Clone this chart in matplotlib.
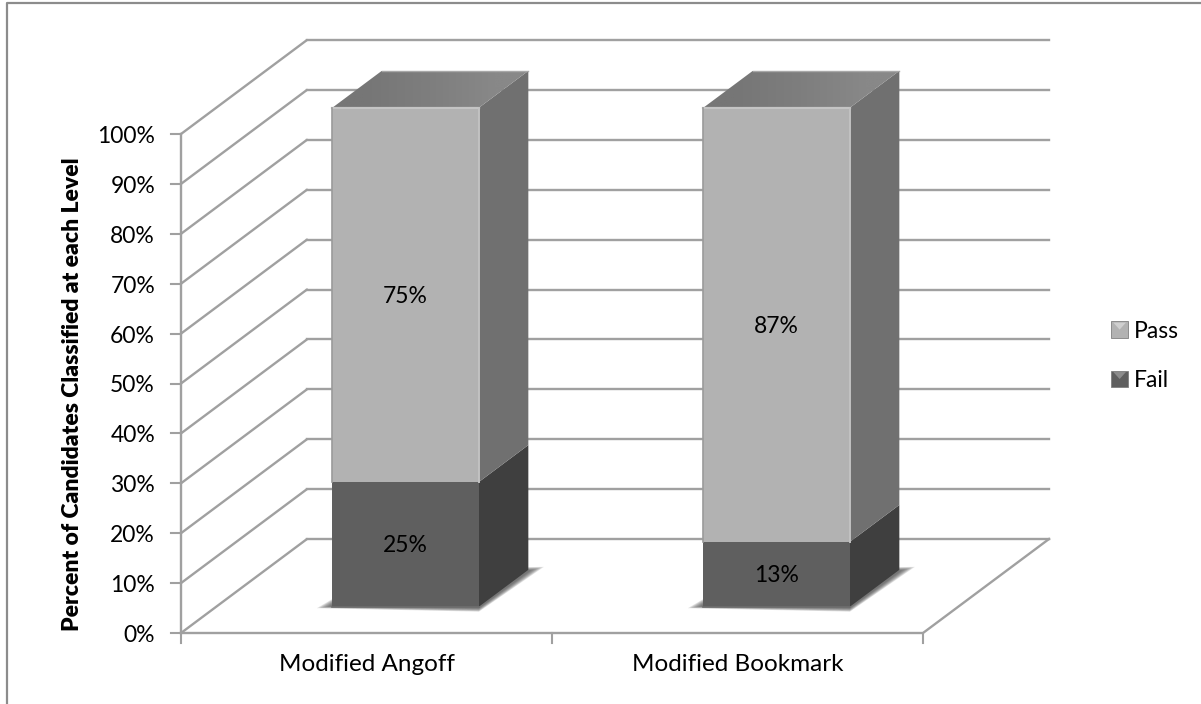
import numpy as np
import matplotlib.pyplot as plt
from matplotlib.colors import to_rgb
from matplotlib.patches import Polygon, Rectangle

plt.rcParams['font.family'] = ['Lato', 'DejaVu Sans']

categories = ['Modified Angoff', 'Modified Bookmark']
fail = [25, 13]
passed = [75, 87]
y_ticks = list(range(0, 101, 10))
legend_labels = ['Pass', 'Fail']

W, H = 1201, 704
X0, Y0 = 181, 633      # pixel position of the axis origin
CAT_W = 371            # pixels per category
PCT_H = 4.99           # pixels per percent
DEPTH_X, DEPTH_Y = 126 / CAT_W, 94 / PCT_H  # oblique shift of the back wall

BAR_W = 0.395
BAR_SHIFT = 0.0105
D_FRONT, D_BACK = 0.28, 0.672
LINE = '#a0a0a0'
FS = 16.5

fig = plt.figure(figsize=(W / 100, H / 100), dpi=100)
ax = fig.add_axes([0, 0, 1, 1])
ax.set_xlim(-X0 / CAT_W, (W - X0) / CAT_W)
ax.set_ylim(-(H - Y0) / PCT_H, Y0 / PCT_H)
ax.axis('off')


def proj(x, y, d=0):
    return x + d * DEPTH_X, y + d * DEPTH_Y


def face(pts, color, z=3):
    ax.add_patch(Polygon(pts, closed=True, fc=color, ec='none', zorder=z))


def shade(pts, colors, z=3):
    # polygon filled with a left to right gradient
    poly = Polygon(pts, closed=True, fc='none', ec='none', zorder=z)
    ax.add_patch(poly)
    xs, ys = zip(*pts)
    grad = np.array([to_rgb(k) for k in colors])[None, :, :]
    im = ax.imshow(grad, extent=[min(xs), max(xs), min(ys), max(ys)], aspect='auto',
                   interpolation='bilinear', zorder=z, origin='lower')
    im.set_clip_path(poly)
    ax.set_xlim(-X0 / CAT_W, (W - X0) / CAT_W)
    ax.set_ylim(-(H - Y0) / PCT_H, Y0 / PCT_H)


# chart frame, only the top and left edges show
ax.plot([6.5 / W, 6.5 / W, 1], [0, 1 - 2.5 / H, 1 - 2.5 / H], transform=ax.transAxes,
        color='#8c8c8c', lw=1.6, zorder=1)

# walls: gridlines run up the side wall, then along the back
for v in y_ticks:
    bx, by = proj(0, v, 1)
    ax.plot([0, bx], [v, by], color=LINE, lw=1.7, zorder=2, solid_capstyle='round')
    if v > 0:
        ax.plot([bx, proj(2, v, 1)[0]], [by, by], color=LINE, lw=1.7, zorder=2)
    ax.plot([-0.027, 0], [v, v], color=LINE, lw=1.5, zorder=2)
    ax.text(-0.07, v - 0.5, '%d%%' % v, ha='right', va='center', fontsize=FS, color='black')

# floor outline
fx, fy = proj(2, 0, 1)
ax.plot([0, 2, fx], [0, 0, fy], color=LINE, lw=1.7, zorder=2)
ax.plot([proj(0, 0, 1)[0], fx], [fy, fy], color=LINE, lw=1.7, zorder=2)
ax.plot([0, 0], [0, 100], color=LINE, lw=1.7, zorder=2)
for x in range(3):
    ax.plot([x, x], [0, -2], color=LINE, lw=1.5, zorder=2)

# bars
for i, cat in enumerate(categories):
    left = i + 0.5 + BAR_SHIFT - BAR_W / 2
    right = left + BAR_W

    def fp(x, y):
        return proj(x, y, D_FRONT)

    def bp(x, y):
        return proj(x, y, D_BACK)

    # soft shadow on the floor, stacked translucent layers
    for k in range(8):
        g = k * 0.005
        pts = [(fp(left, 0)[0] - 0.042 + g, fp(left, 0)[1] - 0.3 + k * 0.05),
               (fp(right, 0)[0], fp(right, 0)[1] - 1.0 + k * 0.1),
               (bp(right, 0)[0] + 0.042 - g, bp(right, 0)[1] + 0.6 - k * 0.1),
               (bp(left, 0)[0], bp(left, 0)[1])]
        ax.add_patch(Polygon(pts, closed=True, fc='#404040', ec='none', alpha=0.14, zorder=2.5))

    segments = [(0, fail[i], '#5f5f5f', '#3f3f3f'),
                (fail[i], fail[i] + passed[i], '#b2b2b2', '#707070')]
    for lo, hi, front, side in segments:
        face([fp(right, lo), bp(right, lo), bp(right, hi), fp(right, hi)], side)
        face([fp(left, lo), fp(right, lo), fp(right, hi), fp(left, hi)], front)

    # top cap and bevels
    top = fail[i] + passed[i]
    shade([fp(left, top), fp(right, top), bp(right, top), bp(left, top)],
          ['#767676', '#7e7e7e', '#888888'], z=3.2)
    ax.plot(*zip(fp(left, top), fp(right, top)), color='#c4c4c4', lw=1.6, zorder=3.4)
    ax.plot(*zip(bp(left, top), bp(right, top)), color='#a8a8a8', lw=1, zorder=3.4)
    ax.plot(*zip(fp(left, fail[i]), fp(left, top)), color='#9a9a9a', lw=1.2, zorder=3.4)
    ax.plot(*zip(fp(right, fail[i]), fp(right, top)), color='#c2c2c2', lw=1.4, zorder=3.4)
    ax.plot(*zip(fp(left, 0), fp(right, 0)), color='#6e6e6e', lw=1.2, zorder=3.4)

    cx = (left + right) / 2 + D_FRONT * DEPTH_X
    cy = D_FRONT * DEPTH_Y
    ax.text(cx, cy + fail[i] / 2 - 0.3, '%d%%' % fail[i], ha='center', va='center',
            fontsize=FS, color='black', zorder=5)
    ax.text(cx, cy + fail[i] + passed[i] / 2 - 0.3, '%d%%' % passed[i], ha='center', va='center',
            fontsize=FS, color='black', zorder=5)
    ax.text(i + 0.5, -4.2, cat, ha='center', va='top', fontsize=17.5, color='black')

# axis title
ax.text(-0.293, 47.8, 'Percent of Candidates Classified at each Level', rotation=90,
        ha='center', va='center', fontsize=16.5, fontweight='heavy', color='black')

# legend keys with the small bevel triangle at the top
for label, fc, hi, v in zip(legend_labels, ['#b2b2b2', '#5f5f5f'], ['#cfcfcf', '#8c8c8c'], [60.8, 50.9]):
    kx, kw, kh = 2.507, 0.046, 3.4
    ax.add_patch(Rectangle((kx, v - kh / 2), kw, kh, fc=fc, ec='#808080', lw=0.6, zorder=3))
    face([(kx + 0.006, v + kh / 2 - 0.3), (kx + kw - 0.006, v + kh / 2 - 0.3), (kx + kw / 2, v)], hi, z=3.2)
    ax.text(2.569, v - 0.3, label, ha='left', va='center', fontsize=16.5, color='black')

fig.savefig('out.png', dpi=100)
